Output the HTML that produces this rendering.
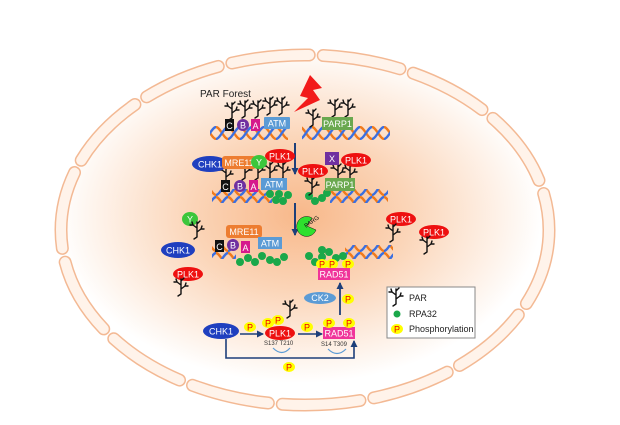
<!DOCTYPE html>
<html><head><meta charset="utf-8"><style>
html,body{margin:0;padding:0;background:#fff;width:620px;height:425px;overflow:hidden}
text{font-family:"Liberation Sans",sans-serif}
</style></head><body>
<svg width="620" height="425" viewBox="0 0 620 425" xmlns="http://www.w3.org/2000/svg">
<defs>
<radialGradient id="g" cx="300" cy="215" r="210" gradientUnits="userSpaceOnUse" gradientTransform="translate(300 215) scale(1.15 0.8) translate(-300 -215)">
<stop offset="0" stop-color="#f8b88a"/><stop offset="0.45" stop-color="#fbd5b8"/><stop offset="1" stop-color="#fff" stop-opacity="1"/></radialGradient>
<pattern id="dna" width="12" height="14" patternUnits="userSpaceOnUse">
<path d="M0 1 C4 1 8 13 12 13" stroke="#f07a1c" stroke-width="2.4" fill="none"/>
<path d="M0 13 C4 13 8 1 12 1" stroke="#3b6fe0" stroke-width="2.4" fill="none"/>
</pattern>
<g id="par" stroke="#111" stroke-width="1.4" fill="none" stroke-linecap="round">
<path d="M0 0 L0 -15 M0 -5 L4 -8 L5 -11 M4 -8 L7 -8 M0 -9 L-4 -12 L-5 -15 M-4 -12 L-7 -12 M0 -13 L3 -16 M0 0 L-3 2"/>
</g>
<g id="pp"><ellipse rx="6" ry="5" fill="#ffff00"/><text y="3.5" font-size="9" text-anchor="middle" fill="#e00">P</text></g>
<g id="dot"><circle r="4" fill="#1aa84a"/></g>
<marker id="ar" markerUnits="userSpaceOnUse" markerWidth="7" markerHeight="7" refX="6" refY="3.5" orient="auto"><path d="M0 0 L7 3.5 L0 7z" fill="#1d3f7a"/></marker>
</defs>
<rect width="620" height="425" fill="#fff"/>
<ellipse cx="305" cy="225" rx="246" ry="175" fill="url(#g)"/>
<ellipse cx="305" cy="230" rx="244" ry="175" fill="none" stroke="#f3b994" stroke-width="13" stroke-dasharray="78 14" stroke-linecap="round"/>
<ellipse cx="305" cy="230" rx="244" ry="175" fill="none" stroke="#fff3ea" stroke-width="10" stroke-dasharray="78 14" stroke-linecap="round"/>

<text x="200" y="97" font-size="10" fill="#222">PAR Forest</text>
<path d="M310 75 L322 88 L313 90 L320 100 L294 112 L308 98 L300 96 Z" fill="#f21a1a"/>

<!-- row1 -->
<rect x="210" y="126" width="78" height="14" fill="url(#dna)"/>
<rect x="302" y="126" width="88" height="14" fill="url(#dna)"/>
<use href="#par" x="232" y="118"/><use href="#par" x="245" y="116"/><use href="#par" x="258" y="116"/><use href="#par" x="270" y="113"/><use href="#par" x="282" y="113"/>
<use href="#par" x="313" y="125"/><use href="#par" x="335" y="115"/><use href="#par" x="348" y="115"/>
<rect x="225" y="119" width="9" height="12" fill="#111"/><text x="229.5" y="129" font-size="9" fill="#fff" text-anchor="middle">C</text>
<circle cx="243" cy="125" r="6" fill="#7030a0"/><text x="243" y="128.5" font-size="9" fill="#fff" text-anchor="middle">B</text>
<rect x="251" y="119" width="9" height="12" fill="#d6198c"/><text x="255.5" y="129" font-size="9" fill="#fff" text-anchor="middle">A</text>
<rect x="264" y="117" width="26" height="12" fill="#5b9bd5" rx="1"/><text x="277" y="126.5" font-size="9" fill="#fff" text-anchor="middle">ATM</text>
<rect x="322" y="117" width="31" height="13" fill="#6aa84f"/><text x="337.5" y="127" font-size="9" fill="#fff" text-anchor="middle">PARP1</text>

<line x1="295" y1="143" x2="295" y2="174" stroke="#1d3f7a" stroke-width="2" marker-end="url(#ar)"/>
<line x1="295" y1="203" x2="295" y2="235" stroke="#1d3f7a" stroke-width="2" marker-end="url(#ar)"/>

<!-- row2 -->
<rect x="212" y="189" width="60" height="14" fill="url(#dna)"/>
<rect x="330" y="189" width="58" height="14" fill="url(#dna)"/>
<use href="#dot" x="270" y="194"/><use href="#dot" x="276" y="200"/><use href="#dot" x="283" y="201"/><use href="#dot" x="288" y="195"/><use href="#dot" x="279" y="194"/>
<use href="#dot" x="309" y="196"/><use href="#dot" x="315" y="201"/><use href="#dot" x="322" y="198"/><use href="#dot" x="327" y="193"/>
<use href="#par" x="226" y="182"/><use href="#par" x="245" y="178"/><use href="#par" x="258" y="178"/><use href="#par" x="270" y="178"/><use href="#par" x="283" y="178"/>
<use href="#par" x="312" y="193"/><use href="#par" x="338" y="180"/><use href="#par" x="350" y="180"/>
<ellipse cx="210" cy="164" rx="18" ry="8" fill="#1f3fbf"/><text x="210" y="167.5" font-size="9" fill="#fff" text-anchor="middle">CHK1</text>
<rect x="222" y="156" width="34" height="13" rx="3" fill="#ed7d31"/><text x="239" y="166" font-size="9" fill="#fff" text-anchor="middle">MRE11</text>
<ellipse cx="259" cy="162" rx="8" ry="7" fill="#3cc63c"/><text x="259" y="165.5" font-size="9" fill="#fff" text-anchor="middle">Y</text>
<ellipse cx="280" cy="156" rx="15" ry="7" fill="#ee1010"/><text x="280" y="159.5" font-size="9" fill="#fff" text-anchor="middle">PLK1</text>
<rect x="221" y="180" width="9" height="12" fill="#111"/><text x="225.5" y="190" font-size="9" fill="#fff" text-anchor="middle">C</text>
<circle cx="240" cy="186" r="6" fill="#7030a0"/><text x="240" y="189.5" font-size="9" fill="#fff" text-anchor="middle">B</text>
<rect x="249" y="180" width="9" height="12" fill="#d6198c"/><text x="253.5" y="190" font-size="9" fill="#fff" text-anchor="middle">A</text>
<rect x="261" y="178" width="26" height="12" fill="#5b9bd5"/><text x="274" y="187.5" font-size="9" fill="#fff" text-anchor="middle">ATM</text>
<ellipse cx="313" cy="171" rx="15" ry="7" fill="#ee1010"/><text x="313" y="174.5" font-size="9" fill="#fff" text-anchor="middle">PLK1</text>
<rect x="325" y="152" width="14" height="13" fill="#7030a0"/><text x="332" y="162" font-size="9" fill="#fff" text-anchor="middle">X</text>
<ellipse cx="356" cy="160" rx="15" ry="7" fill="#ee1010"/><text x="356" y="163.5" font-size="9" fill="#fff" text-anchor="middle">PLK1</text>
<rect x="325" y="178" width="30" height="13" fill="#6aa84f"/><text x="340" y="188" font-size="9" fill="#fff" text-anchor="middle">PARP1</text>

<!-- PARG -->
<path d="M312 218 A10 10 0 1 0 316 230 L307 226 Z" fill="#2ee02e" stroke="#111" stroke-width="0.5"/>
<text x="306" y="228" font-size="6" fill="#111" transform="rotate(-35 306 228)">PARG</text>

<!-- row3 -->
<rect x="212" y="245" width="24" height="14" fill="url(#dna)"/>
<rect x="345" y="245" width="48" height="14" fill="url(#dna)"/>
<use href="#dot" x="248" y="258"/><use href="#dot" x="255" y="262"/><use href="#dot" x="262" y="256"/><use href="#dot" x="270" y="260"/><use href="#dot" x="277" y="262"/><use href="#dot" x="284" y="257"/><use href="#dot" x="240" y="262"/>
<use href="#dot" x="309" y="256"/><use href="#dot" x="315" y="262"/><use href="#dot" x="322" y="257"/><use href="#dot" x="329" y="252"/><use href="#dot" x="336" y="258"/><use href="#dot" x="343" y="256"/><use href="#dot" x="322" y="250"/>
<rect x="226" y="225" width="36" height="13" rx="3" fill="#ed7d31"/><text x="244" y="235" font-size="9" fill="#fff" text-anchor="middle">MRE11</text>
<rect x="215" y="240" width="9" height="12" fill="#111"/><text x="219.5" y="250" font-size="9" fill="#fff" text-anchor="middle">C</text>
<circle cx="233" cy="245" r="6" fill="#7030a0"/><text x="233" y="248.5" font-size="9" fill="#fff" text-anchor="middle">B</text>
<rect x="241" y="241" width="9" height="12" fill="#d6198c"/><text x="245.5" y="251" font-size="9" fill="#fff" text-anchor="middle">A</text>
<rect x="258" y="237" width="24" height="12" fill="#5b9bd5"/><text x="270" y="246.5" font-size="9" fill="#fff" text-anchor="middle">ATM</text>
<ellipse cx="190" cy="219" rx="8" ry="7" fill="#3cc63c"/><text x="190" y="222.5" font-size="9" fill="#fff" text-anchor="middle">Y</text>
<use href="#par" x="197" y="237"/>
<ellipse cx="178" cy="250" rx="17" ry="8" fill="#1f3fbf"/><text x="178" y="253.5" font-size="9" fill="#fff" text-anchor="middle">CHK1</text>
<ellipse cx="188" cy="274" rx="15" ry="7" fill="#ee1010"/><text x="188" y="277.5" font-size="9" fill="#fff" text-anchor="middle">PLK1</text>
<use href="#par" x="181" y="294"/>
<ellipse cx="401" cy="219" rx="15" ry="7" fill="#ee1010"/><text x="401" y="222.5" font-size="9" fill="#fff" text-anchor="middle">PLK1</text>
<use href="#par" x="393" y="240"/>
<ellipse cx="434" cy="232" rx="15" ry="7" fill="#ee1010"/><text x="434" y="235.5" font-size="9" fill="#fff" text-anchor="middle">PLK1</text>
<use href="#par" x="427" y="252"/>
<use href="#pp" x="322" y="264"/><use href="#pp" x="332" y="264"/><use href="#pp" x="348" y="264"/>
<rect x="318" y="268" width="32" height="12" fill="#f0359a"/><text x="334" y="277.5" font-size="9" fill="#fff" text-anchor="middle">RAD51</text>

<!-- bottom pathway -->
<line x1="340" y1="315" x2="340" y2="283" stroke="#1d3f7a" stroke-width="1.8" marker-end="url(#ar)"/>
<ellipse cx="320" cy="298" rx="16" ry="6" fill="#5b9bd5"/><text x="320" y="301" font-size="9" fill="#fff" text-anchor="middle">CK2</text>
<use href="#pp" x="348" y="299"/>
<use href="#par" x="290" y="316"/>
<ellipse cx="221" cy="331" rx="18" ry="8" fill="#1f3fbf"/><text x="221" y="334.5" font-size="9" fill="#fff" text-anchor="middle">CHK1</text>
<use href="#pp" x="250" y="327"/>
<line x1="240" y1="334" x2="263" y2="334" stroke="#1d3f7a" stroke-width="1.6" marker-end="url(#ar)"/>
<ellipse cx="280" cy="333" rx="15" ry="7" fill="#ee1010"/><text x="280" y="336.5" font-size="9" fill="#fff" text-anchor="middle">PLK1</text>
<use href="#pp" x="268" y="323"/><use href="#pp" x="278" y="320"/>
<text x="264" y="345" font-size="6" fill="#333">S137  T210</text>
<use href="#pp" x="307" y="327"/>
<line x1="298" y1="334" x2="322" y2="334" stroke="#1d3f7a" stroke-width="1.6" marker-end="url(#ar)"/>
<rect x="323" y="327" width="32" height="12" fill="#f0359a"/><text x="339" y="336.5" font-size="9" fill="#fff" text-anchor="middle">RAD51</text>
<use href="#pp" x="329" y="323"/><use href="#pp" x="349" y="323"/>
<text x="321" y="346" font-size="6" fill="#333">S14  T309</text>
<path d="M273 348 Q282 357 290 348" fill="none" stroke="#5b9bd5" stroke-width="1.2"/>
<path d="M328 349 Q337 358 346 349" fill="none" stroke="#5b9bd5" stroke-width="1.2"/>
<path d="M226 339 L226 358 L354 358 L354 341" fill="none" stroke="#1d3f7a" stroke-width="1.6" marker-end="url(#ar)"/>
<use href="#pp" x="289" y="367"/>

<!-- legend -->
<rect x="387" y="287" width="88" height="51" fill="#fff" stroke="#888" stroke-width="1"/>
<use href="#par" x="396" y="304"/><text x="409" y="301" font-size="9" fill="#222">PAR</text>
<circle cx="397" cy="314" r="3.5" fill="#1aa84a"/><text x="409" y="317" font-size="9" fill="#222">RPA32</text>
<use href="#pp" x="397" y="329"/><text x="409" y="332" font-size="9" fill="#222">Phosphorylation</text>
</svg>
</body></html>
